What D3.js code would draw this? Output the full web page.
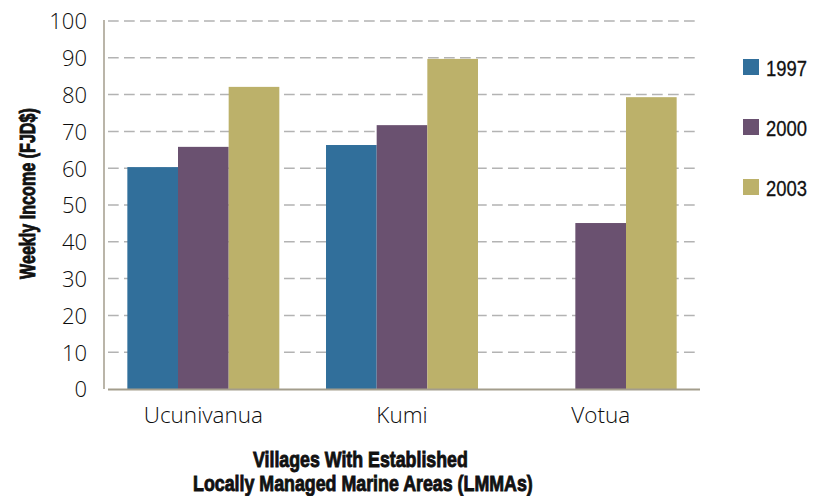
<!DOCTYPE html>
<html>
<head>
<meta charset="utf-8">
<script src="https://cdn.jsdelivr.net/npm/d3@7"></script>
<style>
  html, body { margin: 0; padding: 0; background: #fff; }
  svg { display: block; }
  .tick-label { font-family: "Open Sans", "Liberation Sans", sans-serif; font-weight: 300; fill: #0d0d0d; }
  .cond { font-family: "Liberation Sans", "DejaVu Sans", sans-serif; fill: #111; }
</style>
</head>
<body>
<svg id="chart" width="813" height="496"></svg>
<script>
// Weekly income by village, per survey year
const villages = ["Ucunivanua", "Kumi", "Votua"];
const years = ["1997", "2000", "2003"];
const income1997 = [60.3, 66.3, null];
const income2000 = [65.8, 71.7, 45.1];
const income2003 = [82.1, 89.7, 79.3];
const yTicks = [0, 10, 20, 30, 40, 50, 60, 70, 80, 90, 100];
const colors = ["#316f9b", "#6a5170", "#bcb16a"];

const seriesValues = [income1997, income2000, income2003];

const svg = d3.select("#chart");
const plot = { left: 104, right: 700, top: 21, bottom: 389 };

const y = d3.scaleLinear().domain([0, 100]).range([plot.bottom, plot.top]);
const x0 = d3.scaleBand().domain(villages).range([plot.left, plot.right])
  .paddingInner(0.235).paddingOuter(0.1175);
const x1 = d3.scaleBand().domain(years).range([0, x0.bandwidth()]);

// dashed gridlines
svg.append("g").selectAll("line")
  .data(yTicks.filter(d => d > 0))
  .join("line")
  .attr("x1", plot.left + 4).attr("x2", plot.right)
  .attr("y1", d => y(d)).attr("y2", d => y(d))
  .attr("stroke", "#b3b3b3").attr("stroke-width", 1.5)
  .attr("stroke-dasharray", "10.7,5.3");

// bars
const groups = svg.append("g").selectAll("g")
  .data(villages)
  .join("g")
  .attr("transform", d => `translate(${x0(d)},0)`);

groups.selectAll("rect")
  .data((v, i) => years.map((yr, s) => ({ yr, s, value: seriesValues[s][i] })).filter(d => d.value != null))
  .join("rect")
  .attr("x", d => x1(d.yr))
  .attr("width", x1.bandwidth())
  .attr("y", d => y(d.value))
  .attr("height", d => y(0) - y(d.value))
  .attr("fill", d => colors[d.s]);

// axis lines
svg.append("line")
  .attr("x1", plot.left).attr("x2", plot.left)
  .attr("y1", plot.top - 1).attr("y2", plot.bottom)
  .attr("stroke", "#a39d8c").attr("stroke-width", 1.5);
svg.append("line")
  .attr("x1", plot.left + 4).attr("x2", plot.right)
  .attr("y1", plot.bottom + 0.5).attr("y2", plot.bottom + 0.5)
  .attr("stroke", "#a39d8c").attr("stroke-width", 2);

// y tick labels
const yAxis = d3.axisLeft(y).tickValues(yTicks).tickSize(0).tickPadding(0);
const ya = svg.append("g").attr("transform", `translate(87,0)`).call(yAxis);
ya.select(".domain").remove();
ya.selectAll("text").attr("class", "tick-label")
  .attr("font-size", 22).attr("dy", "0.36em");

// x category labels
const xAxis = d3.axisBottom(x0).tickSize(0).tickPadding(0);
const xa = svg.append("g").attr("transform", `translate(0,423)`).call(xAxis);
xa.select(".domain").remove();
xa.selectAll("text").attr("class", "tick-label")
  .attr("font-size", 22.5).attr("dy", 0);

// Condensed text: draw at the origin, then scale horizontally so the
// rendered width equals `len`, starting at (x, y) and rotated by `rot`.
function condensed(parent, str, x, y, len, opts = {}) {
  const g = parent.append("g");
  const t = g.append("text").attr("class", "cond")
    .attr("font-size", opts.size || 22)
    .attr("font-weight", opts.weight || "normal")
    .text(str);
  if (opts.stroke) t.attr("stroke", "#111").attr("stroke-width", opts.stroke);
  const natural = t.node().getComputedTextLength();
  const sx = len / natural;
  g.attr("transform", `translate(${x},${y}) rotate(${opts.rot || 0}) scale(${sx},1)`);
  return g;
}

// axis titles
condensed(svg, "Weekly Income (FJD$)", 35, 279, 171, { size: 22.5, weight: "bold", rot: -90, stroke: 0.9 });
condensed(svg, "Villages With Established", 253, 466.5, 215, { size: 22.5, weight: "bold", stroke: 0.9 });
condensed(svg, "Locally Managed Marine Areas (LMMAs)", 193, 490.5, 340, { size: 22.5, weight: "bold", stroke: 0.9 });

// legend
years.forEach((yr, i) => {
  const top = 59 + i * 60;
  svg.append("rect").attr("x", 743).attr("y", top)
    .attr("width", 16).attr("height", 16).attr("fill", colors[i]);
  condensed(svg, yr, 766, top + 16.5, 41, { size: 22.5, stroke: 0.3 });
});
</script>
</body>
</html>
